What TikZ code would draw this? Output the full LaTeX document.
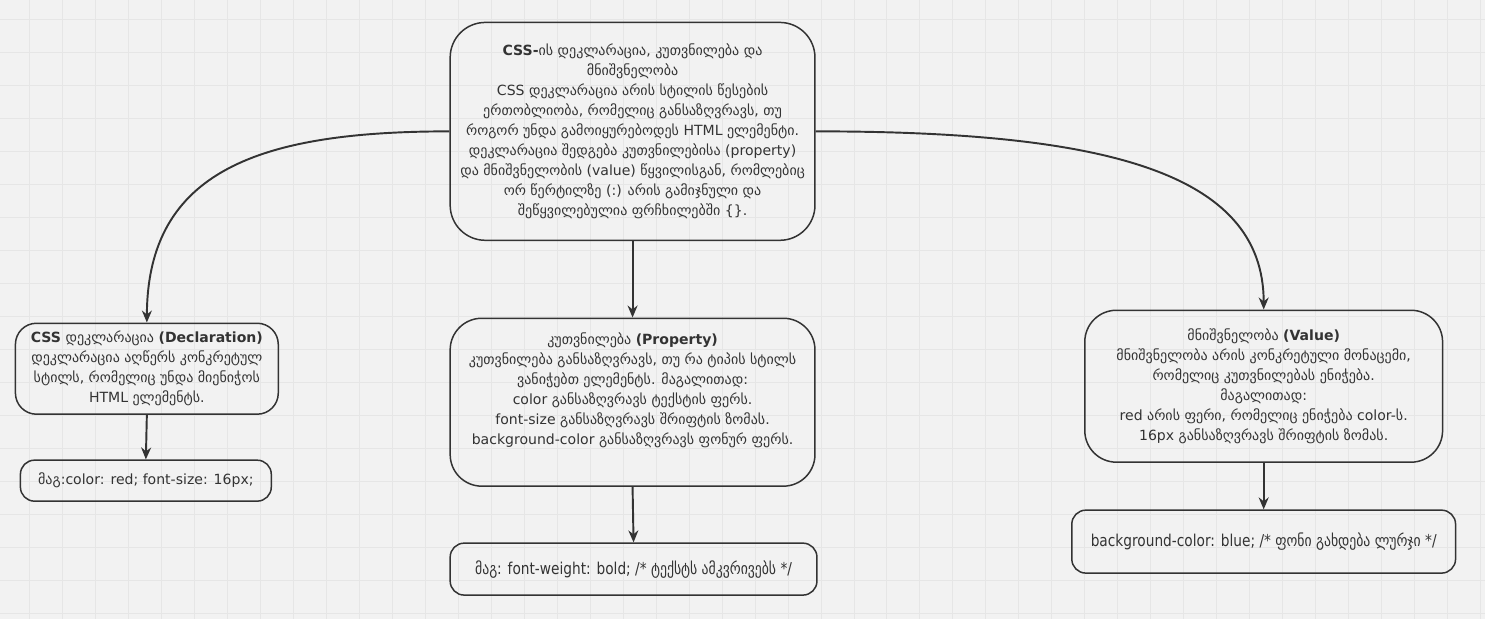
\documentclass[tikz,border=0pt]{standalone}
\usepackage{fontspec}
\setmainfont{DejaVu Sans}
\newfontfamily\condfont[FakeStretch=0.84]{DejaVu Sans}
\usepackage{tikz}
\usetikzlibrary{arrows.meta,positioning}
\usepackage{xcolor}
\definecolor{boardgray}{RGB}{242,242,242}
\definecolor{gridgray}{RGB}{230,230,230}
\definecolor{inkgray}{RGB}{51,51,51}
\newcommand{\txtsize}{\fontsize{8}{11.4}\selectfont}
\newcommand{\exsize}{\fontsize{9.3}{12}\selectfont}

\begin{document}
\begin{tikzpicture}[x=0.02cm, y=-0.02cm,
  every node/.style={font=\txtsize, text=inkgray},
  box/.style={draw=inkgray, line width=0.85pt, align=center, inner sep=0pt},
  exbox/.style={box, rounded corners=8pt},
  link/.style={draw=inkgray, line width=1.1pt, -{Stealth[length=2.4mm, width=2mm]}}]
  % board
  \fill[boardgray] (0,0) rectangle (1485,619);
  \foreach \gx in {0,...,44} {
    \draw[gridgray, line width=0.5pt] ({29+33*\gx},0) -- ({29+33*\gx},619);
  }
  \foreach \gy in {0,...,18} {
    \draw[gridgray, line width=0.5pt] (0,{19+33*\gy}) -- (1485,{19+33*\gy});
  }
  \useasboundingbox (0,0) rectangle (1485,619);

  % main concept
  \node[box, rounded corners=20pt, minimum width=365*0.02cm, minimum height=218*0.02cm]
    (css) at (632.5,131) {%
    {\bfseries CSS-}ის დეკლარაცია, კუთვნილება და\\
    მნიშვნელობა\\
    CSS დეკლარაცია არის სტილის წესების\\
    ერთობლიობა, რომელიც განსაზღვრავს, თუ\\
    როგორ უნდა გამოიყურებოდეს HTML ელემენტი.\\
    დეკლარაცია შედგება კუთვნილებისა (property)\\
    და მნიშვნელობის (value) წყვილისგან, რომლებიც\\
    ორ წერტილზე (:) არის გამიჯნული და\\
    შეწყვილებულია ფრჩხილებში \{\}.};

  % three parts
  \node[box, rounded corners=12pt, minimum width=263*0.02cm, minimum height=91*0.02cm]
    (decl) at (146.5,368.5) {%
    {\bfseries CSS} დეკლარაცია {\bfseries (Declaration)}\\
    დეკლარაცია აღწერს კონკრეტულ\\
    სტილს, რომელიც უნდა მიენიჭოს\\
    HTML ელემენტს.};
  \node[box, rounded corners=18pt, minimum width=365*0.02cm, minimum height=168*0.02cm]
    (prop) at (632.5,402) {%
    კუთვნილება {\bfseries (Property)}\\
    კუთვნილება განსაზღვრავს, თუ რა ტიპის სტილს\\
    ვანიჭებთ ელემენტს. მაგალითად:\\
    color განსაზღვრავს ტექსტის ფერს.\\
    font-size განსაზღვრავს შრიფტის ზომას.\\
    background-color განსაზღვრავს ფონურ ფერს.\\[4pt]};
  \node[box, rounded corners=18pt, minimum width=358*0.02cm, minimum height=152*0.02cm]
    (val) at (1264,386) {%
    მნიშვნელობა {\bfseries (Value)}\\
    მნიშვნელობა არის კონკრეტული მონაცემი,\\
    რომელიც კუთვნილებას ენიჭება.\\
    მაგალითად:\\
    red არის ფერი, რომელიც ენიჭება color-ს.\\
    16px განსაზღვრავს შრიფტის ზომას.};

  % examples
  \node[exbox, minimum width=251*0.02cm, minimum height=41*0.02cm]
    (declex) at (145.5,480.5) {მაგ:color: red; font-size: 16px;};
  \node[exbox, minimum width=367*0.02cm, minimum height=52*0.02cm]
    (propex) at (633.5,569) {\exsize\condfont მაგ: font-weight: bold; /* ტექსტს ამკვრივებს */};
  \node[exbox, minimum width=384*0.02cm, minimum height=63*0.02cm]
    (valex) at (1264,541.5) {\exsize\condfont background-color: blue; /* ფონი გახდება ლურჯი */};

  % connectors
  \draw[link] (css.west) .. controls (260,131) and (147,170) .. (decl.north);
  \draw[link] (css.east) .. controls (1100,131) and (1264,170) .. (val.north);
  \draw[link] (css.south) -- (prop.north);
  \draw[link] (decl.south) -- (declex.north);
  \draw[link] (prop.south) -- (propex.north);
  \draw[link] (val.south) -- (valex.north);
\end{tikzpicture}
\end{document}
